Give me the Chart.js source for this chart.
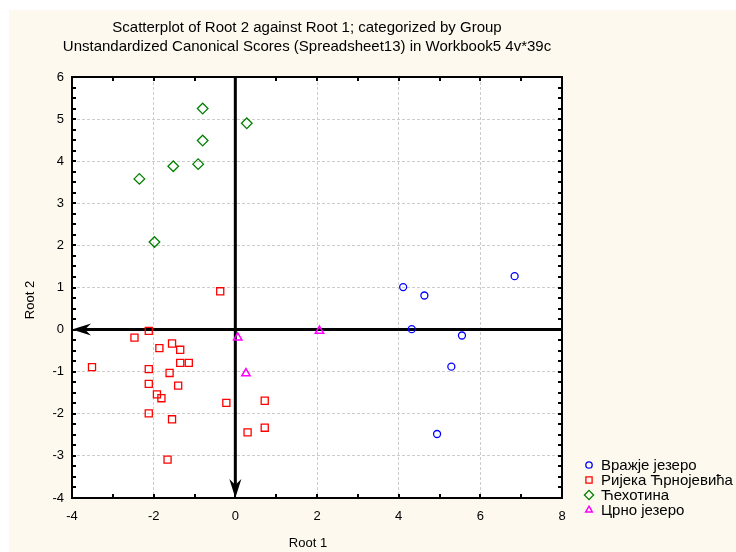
<!DOCTYPE html>
<html><head><meta charset="utf-8">
<script src="https://cdn.jsdelivr.net/npm/chart.js@4.4.1/dist/chart.umd.min.js"></script>
<style>html,body{margin:0;padding:0;background:#fff}#wrap{width:736px;height:552px;position:relative}</style>
</head><body><div id="wrap"><canvas id="c" width="736" height="552"></canvas></div>
<script>
const titleLines = ['Scatterplot of Root 2 against Root 1; categorized by Group',
                    'Unstandardized Canonical Scores (Spreadsheet13) in Workbook5 4v*39c'];
const xTitle = 'Root 1';
const yTitle = 'Root 2';
const groupNames = ['Вражје језеро', 'Ријека Ћрнојевића', 'Ћехотина', 'Црно језеро'];

const vrazjeX = [6.84, 4.11, 4.63, 4.32, 5.55, 5.29, 4.94];
const vrazjeY = [1.27, 1.01, 0.81, 0.01, -0.14, -0.88, -2.48];

const rijekaX = [-0.37, -2.12, -2.47, -1.55, -1.86, -1.35, -1.35, -1.14, -3.51, -2.12, -1.61, -2.12, -1.40, -1.92, -1.81, -0.22, 0.72, -2.12, -1.55, 0.72, 0.30, -1.66];
const rijekaY = [0.91, -0.03, -0.19, -0.33, -0.44, -0.48, -0.79, -0.79, -0.89, -0.94, -1.03, -1.29, -1.33, -1.54, -1.63, -1.74, -1.69, -1.99, -2.13, -2.33, -2.44, -3.09];

const cehotinaX = [-0.80, 0.28, -0.80, -1.52, -0.91, -2.35, -1.98];
const cehotinaY = [5.25, 4.90, 4.49, 3.88, 3.93, 3.58, 2.08];

const crnoX = [0.06, 0.26, 2.06];
const crnoY = [-0.19, -1.04, -0.03];

const xTicks = [-4, -2, 0, 2, 4, 6, 8];
const yTicks = [-4, -3, -2, -1, 0, 1, 2, 3, 4, 5, 6];

const toPts = (xs, ys) => xs.map((x, i) => ({x, y: ys[i]}));

const CREAM = '#fdf9ef';
const FONT = 'Arial, "Liberation Sans", sans-serif';

const bgPlugin = {
  id: 'bg',
  beforeDraw(chart) {
    const {ctx, chartArea: a} = chart;
    ctx.save();
    ctx.fillStyle = '#ffffff';
    ctx.fillRect(0, 0, chart.width, chart.height);
    ctx.fillStyle = CREAM;
    ctx.fillRect(9, 10, chart.width - 9, chart.height - 10);
    ctx.fillStyle = '#ffffff';
    ctx.fillRect(a.left, a.top, a.right - a.left, a.bottom - a.top);
    ctx.restore();
  },
  beforeDatasetsDraw(chart) {
    const {ctx, chartArea: a, scales: {x, y}} = chart;
    const x0 = x.getPixelForValue(0), y0 = y.getPixelForValue(0);
    ctx.save();
    ctx.strokeStyle = '#000';
    ctx.fillStyle = '#000';
    ctx.lineWidth = 3;
    ctx.beginPath();
    ctx.moveTo(a.right, y0); ctx.lineTo(a.left + 6, y0); ctx.stroke();
    ctx.beginPath();
    ctx.moveTo(a.left, y0);
    ctx.lineTo(a.left + 19, y0 - 6);
    ctx.lineTo(a.left + 13, y0);
    ctx.lineTo(a.left + 19, y0 + 6);
    ctx.closePath(); ctx.fill();
    ctx.beginPath();
    ctx.moveTo(x0, a.top); ctx.lineTo(x0, a.bottom - 6); ctx.stroke();
    ctx.beginPath();
    ctx.moveTo(x0, a.bottom);
    ctx.lineTo(x0 - 6, a.bottom - 19);
    ctx.lineTo(x0, a.bottom - 13);
    ctx.lineTo(x0 + 6, a.bottom - 19);
    ctx.closePath(); ctx.fill();
    ctx.restore();
  },
  afterDraw(chart) {
    const {ctx, chartArea: a, scales: {x, y}} = chart;
    ctx.save();
    ctx.strokeStyle = '#000';
    ctx.lineWidth = 2;
    ctx.strokeRect(a.left, a.top, a.right - a.left, a.bottom - a.top);
    ctx.beginPath();
    for (let v = x.min; v <= x.max + 1e-9; v += 1) {
      const px = Math.round(x.getPixelForValue(v));
      ctx.moveTo(px, a.bottom); ctx.lineTo(px, a.bottom - 4);
      ctx.moveTo(px, a.top); ctx.lineTo(px, a.top + 4);
    }
    for (let v = y.min; v <= y.max + 1e-9; v += 0.25) {
      const py = Math.round(y.getPixelForValue(v));
      ctx.moveTo(a.left, py); ctx.lineTo(a.left + 4, py);
      ctx.moveTo(a.right, py); ctx.lineTo(a.right - 4, py);
    }
    ctx.stroke();
    ctx.fillStyle = '#000';
    ctx.textAlign = 'center';
    ctx.textBaseline = 'middle';
    ctx.font = '15px ' + FONT;
    ctx.fillText(titleLines[0], 307, 28);
    ctx.fillText(titleLines[1], 307, 47);
    ctx.font = '13px ' + FONT;
    ctx.fillText(xTitle, (a.left + a.right) / 2 - 9, 543);
    ctx.save();
    ctx.translate(30, 300);
    ctx.rotate(-Math.PI / 2);
    ctx.fillText(yTitle, 0, 0);
    ctx.restore();
    // legend
    ctx.textAlign = 'left';
    ctx.font = '15px ' + FONT;
    chart.data.datasets.forEach((ds, i) => {
      const ly = 465 + i * 15;
      ctx.save();
      ctx.fillStyle = 'rgba(0,0,0,0)';
      ctx.strokeStyle = ds.borderColor;
      ctx.lineWidth = ds.borderWidth;
      const r = ds.pointStyle === 'rectRot' ? 4.6 : ds.pointStyle === 'rect' ? 4.4 : ds.pointStyle === 'triangle' ? 3.8 : 3.2;
      Chart.helpers.drawPoint(ctx, {pointStyle: ds.pointStyle, radius: r, borderWidth: ds.borderWidth, rotation: 0}, 589, ly);
      ctx.restore();
      ctx.fillStyle = '#000';
      ctx.fillText(ds.label, 601, ly + 1);
    });
    ctx.restore();
  }
};

const mk = (label, pts, style, color, r, bw) => ({
  label, data: pts, pointStyle: style, pointRadius: r, pointHoverRadius: r,
  borderColor: color, backgroundColor: 'rgba(0,0,0,0)', borderWidth: bw, showLine: false
});

new Chart(document.getElementById('c'), {
  type: 'scatter',
  data: {
    datasets: [
      mk(groupNames[0], toPts(vrazjeX, vrazjeY), 'circle', '#0000ff', 3.5, 1.3),
      mk(groupNames[1], toPts(rijekaX, rijekaY), 'rect', '#ff0000', 5, 1.3),
      mk(groupNames[2], toPts(cehotinaX, cehotinaY), 'rectRot', '#008000', 5.3, 1.3),
      mk(groupNames[3], toPts(crnoX, crnoY), 'triangle', '#ff00ff', 4.8, 1.5)
    ]
  },
  options: {
    responsive: false, animation: false, devicePixelRatio: 1,
    layout: {padding: {left: 32, top: 77, right: 174, bottom: 24}},
    plugins: {legend: {display: false}, title: {display: false}, tooltip: {enabled: false}},
    scales: {
      x: {
        type: 'linear', min: -4, max: 8,
        afterBuildTicks: s => { s.ticks = xTicks.map(v => ({value: v})); },
        afterFit: s => { s.height = 30; },
        ticks: {color: '#000', font: {family: FONT, size: 13}, padding: 11, maxRotation: 0, autoSkip: false},
        grid: {drawTicks: false, lineWidth: 1,
          color: c => (c.tick && [-2, 2, 4, 6].includes(c.tick.value)) ? '#cccccc' : 'rgba(0,0,0,0)'},
        border: {display: false, dash: [3, 2]}
      },
      y: {
        type: 'linear', min: -4, max: 6,
        afterBuildTicks: s => { s.ticks = yTicks.map(v => ({value: v})); },
        afterFit: s => { s.width = 40; },
        ticks: {color: '#000', font: {family: FONT, size: 13}, padding: 8, autoSkip: false},
        grid: {drawTicks: false, lineWidth: 1,
          color: c => (c.tick && c.tick.value !== 0 && c.tick.value !== -4 && c.tick.value !== 6) ? '#cccccc' : 'rgba(0,0,0,0)'},
        border: {display: false, dash: [3, 2]}
      }
    }
  },
  plugins: [bgPlugin]
});
</script></body></html>
